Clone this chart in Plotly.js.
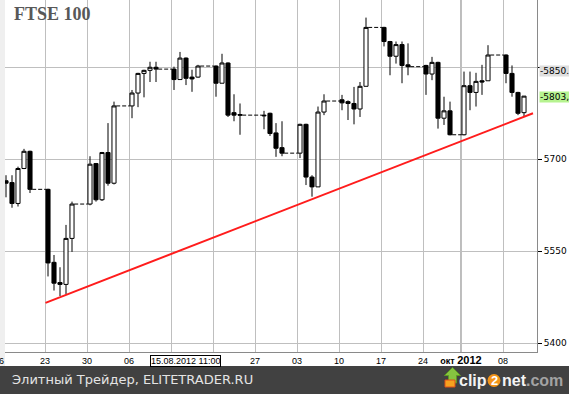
<!DOCTYPE html>
<html><head><meta charset="utf-8">
<script src="https://cdn.plot.ly/plotly-3.0.1.min.js"></script>
<style>html,body{margin:0;padding:0;background:#fff}#chart{width:569px;height:394px}</style>
</head><body><div id="chart"></div>
<script>
// ---- data (FTSE 100, daily) ----
const dates = [
'2012-07-16','2012-07-17','2012-07-18','2012-07-19','2012-07-20',
'2012-07-23','2012-07-24','2012-07-25','2012-07-26','2012-07-27',
'2012-07-30','2012-07-31','2012-08-01','2012-08-02','2012-08-03',
'2012-08-06','2012-08-07','2012-08-08','2012-08-09','2012-08-10',
'2012-08-13','2012-08-14','2012-08-15','2012-08-16','2012-08-17',
'2012-08-20','2012-08-21','2012-08-22','2012-08-23','2012-08-24',
'2012-08-28','2012-08-29','2012-08-30','2012-08-31',
'2012-09-03','2012-09-04','2012-09-05','2012-09-06','2012-09-07',
'2012-09-10','2012-09-11','2012-09-12','2012-09-13','2012-09-14',
'2012-09-17','2012-09-18','2012-09-19','2012-09-20','2012-09-21',
'2012-09-24','2012-09-25','2012-09-26','2012-09-27','2012-09-28',
'2012-10-01','2012-10-02','2012-10-03','2012-10-04','2012-10-05',
'2012-10-08','2012-10-09','2012-10-10','2012-10-11'];
const opens = [
5665,5662,5628,5685,5713,
5651,5532,5499,5496,5571,
5627,5693,5634,5711,5661,
5787,5808,5840,5845,5850,
5847,5830,5865,5834,5834,
5852,5824,5857,5776,5773,
5772,5775,5743,5719,
5710,5757,5671,5655,5777,
5797,5794,5791,5782,5819,
5915,5892,5868,5887,5854,
5853,5839,5858,5767,5779,
5740,5820,5809,5828,5828,
5870,5840,5809,5776];
const highs = [
5674,5674,5688,5717,5714,
5652,5544,5524,5593,5631,
5705,5694,5712,5759,5794,
5813,5841,5846,5859,5859,
5851,5875,5866,5846,5854,
5853,5872,5858,5806,5791,
5779,5776,5759,5762,
5758,5758,5674,5786,5806,
5805,5796,5818,5826,5931,
5916,5893,5892,5892,5889,
5854,5867,5859,5802,5794,
5843,5843,5841,5854,5886,
5871,5853,5810,5802];
const lows = [
5638,5621,5623,5684,5645,
5509,5486,5477,5480,5549,
5625,5631,5632,5657,5659,
5767,5785,5801,5826,5826,
5813,5830,5821,5810,5833,
5802,5824,5769,5762,5740,
5749,5738,5704,5705,
5702,5658,5639,5655,5772,
5780,5764,5757,5769,5819,
5884,5837,5856,5824,5837,
5805,5829,5750,5756,5739,
5739,5780,5786,5805,5828,
5824,5802,5772,5769];
const closes = [
5661,5628,5685,5713,5651,
5531,5498,5496,5571,5627,
5692,5634,5711,5661,5787,
5808,5840,5845,5850,5847,
5830,5865,5832,5831,5852,
5824,5857,5772,5772,5772,
5771,5742,5718,5710,
5757,5671,5655,5777,5795,
5792,5791,5782,5819,5915,
5892,5868,5887,5853,5851,
5839,5858,5767,5779,5740,
5820,5809,5827,5826,5870,
5840,5809,5775,5803];

const weekTicks = ['2012-07-23','2012-07-30','2012-08-06','2012-08-13','2012-08-20','2012-08-27',
  '2012-09-03','2012-09-10','2012-09-17','2012-09-24','2012-10-01','2012-10-08'];
// "13" and "20" are hidden under the cursor date box in the reference
const weekLabels = ['23','30','06','','','27','03','10','17','24',
  '<b>окт <span style="font-size:11px">2012</span></b>','08'];
const firstLabel = '16';
const priceTicks = [5400, 5550, 5700, 5850];
const priceLabels = ['5400', '5550', '5700', ''];

const trendDates = ['2012-07-23 02:00:00', '2012-10-13 00:00:00'];
const trendPrices = [5466, 5775];

const lastPriceLabel = '-5803,00';
const lastPrice = 5803;
const cursorPriceLabel = '-5850.00';
const cursorPrice = 5850;
const cursorTime = '2012-08-15 11:00:00';
const cursorTimeLabel = '15.08.2012 11:00';

const titleText = 'FTSE 100';
const footerText = 'Элитный Трейдер, ELITETRADER.RU';

// ---- helpers ----
const HOUR = 3600000, DAY = 24 * HOUR;
const toMs = s => Date.parse(s + 'T00:00:00Z');
const fmt = ms => new Date(ms).toISOString().slice(0, 19).replace('T', ' ');
const candleX = dates.map(d => fmt(toMs(d) + 12 * HOUR));

// dashed carry-over lines across non-trading gaps
const gapX = [], gapY = [];
for (let i = 1; i < dates.length; i++) {
  const a = toMs(dates[i - 1]), b = toMs(dates[i]);
  if (b - a > DAY) {
    gapX.push(fmt(a + 12 * HOUR + 0.36 * DAY), fmt(b + 12 * HOUR - 0.36 * DAY), null);
    gapY.push(closes[i - 1], closes[i - 1], null);
  }
}

// plot-area pixel -> paper helpers (plot area: x 5..537, y 0..352)
const L = 5, W = 532, H = 352;
const px = p => (p - L) / W;
const py = p => (H - p) / H;

const traces = [
  {
    type: 'candlestick', x: candleX, open: opens, high: highs, low: lows, close: closes,
    increasing: {line: {color: '#000', width: 1}, fillcolor: '#ffffff'},
    decreasing: {line: {color: '#000', width: 1}, fillcolor: '#000000'},
    whiskerwidth: 0, hoverinfo: 'skip', showlegend: false
  },
  {
    type: 'scatter', mode: 'lines', x: gapX, y: gapY, connectgaps: false,
    line: {color: '#000', width: 1, dash: '4px,2px'}, hoverinfo: 'skip', showlegend: false
  },
  {
    type: 'scatter', mode: 'lines', x: trendDates, y: trendPrices,
    line: {color: '#ff1c1c', width: 2}, hoverinfo: 'skip', showlegend: false
  }
];

const octIdx = weekLabels.findIndex(t => t.indexOf('окт') >= 0);

const shapes = [
  {type: 'rect', xref: 'paper', yref: 'paper', x0: px(0), x1: px(5), y0: py(366), y1: 1,
   fillcolor: '#efefef', line: {width: 0}, layer: 'below'},
  {type: 'line', xref: 'x', yref: 'paper', x0: weekTicks[octIdx], x1: weekTicks[octIdx], y0: 0, y1: 1,
   line: {color: '#7a7a7a', width: 1}, layer: 'below'},
  {type: 'rect', xref: 'paper', yref: 'paper', x0: px(0), x1: px(569), y0: py(394), y1: py(366),
   fillcolor: '#414141', line: {width: 0}, layer: 'above'},
  {type: 'path', xref: 'paper', yref: 'paper',
   path: 'M' + px(452.5) + ',' + py(367.5) + ' L' + px(460.5) + ',' + py(375.5) + ' L' + px(456.5) + ',' + py(375.5) +
         ' L' + px(456.5) + ',' + py(383) + ' L' + px(448.5) + ',' + py(383) + ' L' + px(448.5) + ',' + py(375.5) +
         ' L' + px(444.5) + ',' + py(375.5) + ' Z',
   fillcolor: '#86c440', line: {color: '#5e9a22', width: 1}, layer: 'above'},
  {type: 'rect', xref: 'paper', yref: 'paper', x0: px(445), x1: px(455), y0: py(387), y1: py(380),
   fillcolor: '#f6a21f', line: {color: '#e0501a', width: 1}, layer: 'above'},
  {type: 'circle', xref: 'paper', yref: 'paper', x0: px(487.5), x1: px(500.5), y0: py(387), y1: py(374),
   fillcolor: '#f39419', line: {width: 0}, layer: 'above'}
];

const annotations = [
  {xref: 'paper', yref: 'paper', x: px(12), y: py(14.5), xanchor: 'left', yanchor: 'middle', showarrow: false,
   text: '<b>' + titleText + '</b>', font: {family: 'Liberation Serif', size: 18, color: '#585858'}},
  {xref: 'paper', yref: 'paper', x: px(-1), y: 0, xanchor: 'center', yanchor: 'top', yshift: -2, showarrow: false,
   text: firstLabel, font: {family: 'Liberation Sans', size: 9, color: '#000'}},
  {xref: 'x', yref: 'paper', x: cursorTime, y: 0, xanchor: 'center', yanchor: 'top', yshift: -3, showarrow: false,
   text: cursorTimeLabel, bgcolor: '#ffffff', bordercolor: '#000', borderwidth: 1, borderpad: 0,
   font: {family: 'Liberation Sans', size: 9, color: '#000'}},
  {xref: 'paper', yref: 'y', x: 1 + 2 / W, y: cursorPrice, xanchor: 'left', yanchor: 'middle', yshift: -4, showarrow: false,
   text: cursorPriceLabel, bgcolor: '#dedede', borderpad: 0,
   font: {family: 'DejaVu Sans', size: 9, color: '#000'}},
  {xref: 'paper', yref: 'y', x: 1 + 2 / W, y: lastPrice, xanchor: 'left', yanchor: 'middle', yshift: -1, showarrow: false,
   text: lastPriceLabel, bgcolor: '#b6f390', borderpad: 0,
   font: {family: 'DejaVu Sans', size: 9, color: '#000'}},
  {xref: 'paper', yref: 'paper', x: px(9.5), y: py(379.5), xanchor: 'left', yanchor: 'middle', showarrow: false,
   text: footerText, font: {family: 'DejaVu Sans', size: 13, color: '#e4e4e4'}},
  {xref: 'paper', yref: 'paper', x: px(489), y: py(381), xanchor: 'right', yanchor: 'middle', showarrow: false,
   text: '<b>clip</b>', font: {family: 'Liberation Sans', size: 16, color: '#f4f4f4'}},
  {xref: 'paper', yref: 'paper', x: px(494), y: py(381), xanchor: 'center', yanchor: 'middle', showarrow: false,
   text: '<b>2</b>', font: {family: 'Liberation Sans', size: 13, color: '#ffffff'}},
  {xref: 'paper', yref: 'paper', x: px(499.5), y: py(381), xanchor: 'left', yanchor: 'middle', showarrow: false,
   text: '<b>net</b>', font: {family: 'Liberation Sans', size: 16, color: '#f4f4f4'}},
  {xref: 'paper', yref: 'paper', x: px(524), y: py(381), xanchor: 'left', yanchor: 'middle', showarrow: false,
   text: '<b>.com</b>', font: {family: 'Liberation Sans', size: 16, color: '#a3a3a3'}}
];

const layout = {
  width: 569, height: 394,
  margin: {l: 5, r: 32, t: 0, b: 42, pad: 0},
  paper_bgcolor: '#ffffff', plot_bgcolor: '#ffffff',
  showlegend: false,
  boxgap: 0.2, boxgroupgap: 0.15,
  xaxis: {
    type: 'date',
    range: ['2012-07-16 08:00:00', '2012-10-13 16:00:00'],
    rangebreaks: [{values: ['2012-09-29 04:00:00'], dvalue: 16 * HOUR}],
    rangeslider: {visible: false},
    tickmode: 'array', tickvals: weekTicks, ticktext: weekLabels,
    showgrid: true, gridcolor: '#bfbfbf', gridwidth: 1,
    showline: true, linecolor: '#8a8a8a', linewidth: 1,
    ticks: '', zeroline: false, fixedrange: true,
    tickfont: {family: 'Liberation Sans', size: 9, color: '#000'}
  },
  yaxis: {
    side: 'right',
    range: [5385.8, 5959.7],
    tickmode: 'array', tickvals: priceTicks, ticktext: priceLabels,
    showgrid: true, gridcolor: '#bfbfbf', gridwidth: 1,
    showline: true, linecolor: '#8a8a8a', linewidth: 1,
    ticks: 'outside', ticklen: 4, tickcolor: '#000', tickwidth: 1,
    zeroline: false, fixedrange: true,
    tickfont: {family: 'DejaVu Sans', size: 9, color: '#000'}
  },
  shapes: shapes,
  annotations: annotations
};

Plotly.newPlot('chart', traces, layout, {staticPlot: true, displayModeBar: false});
</script>
</body></html>
